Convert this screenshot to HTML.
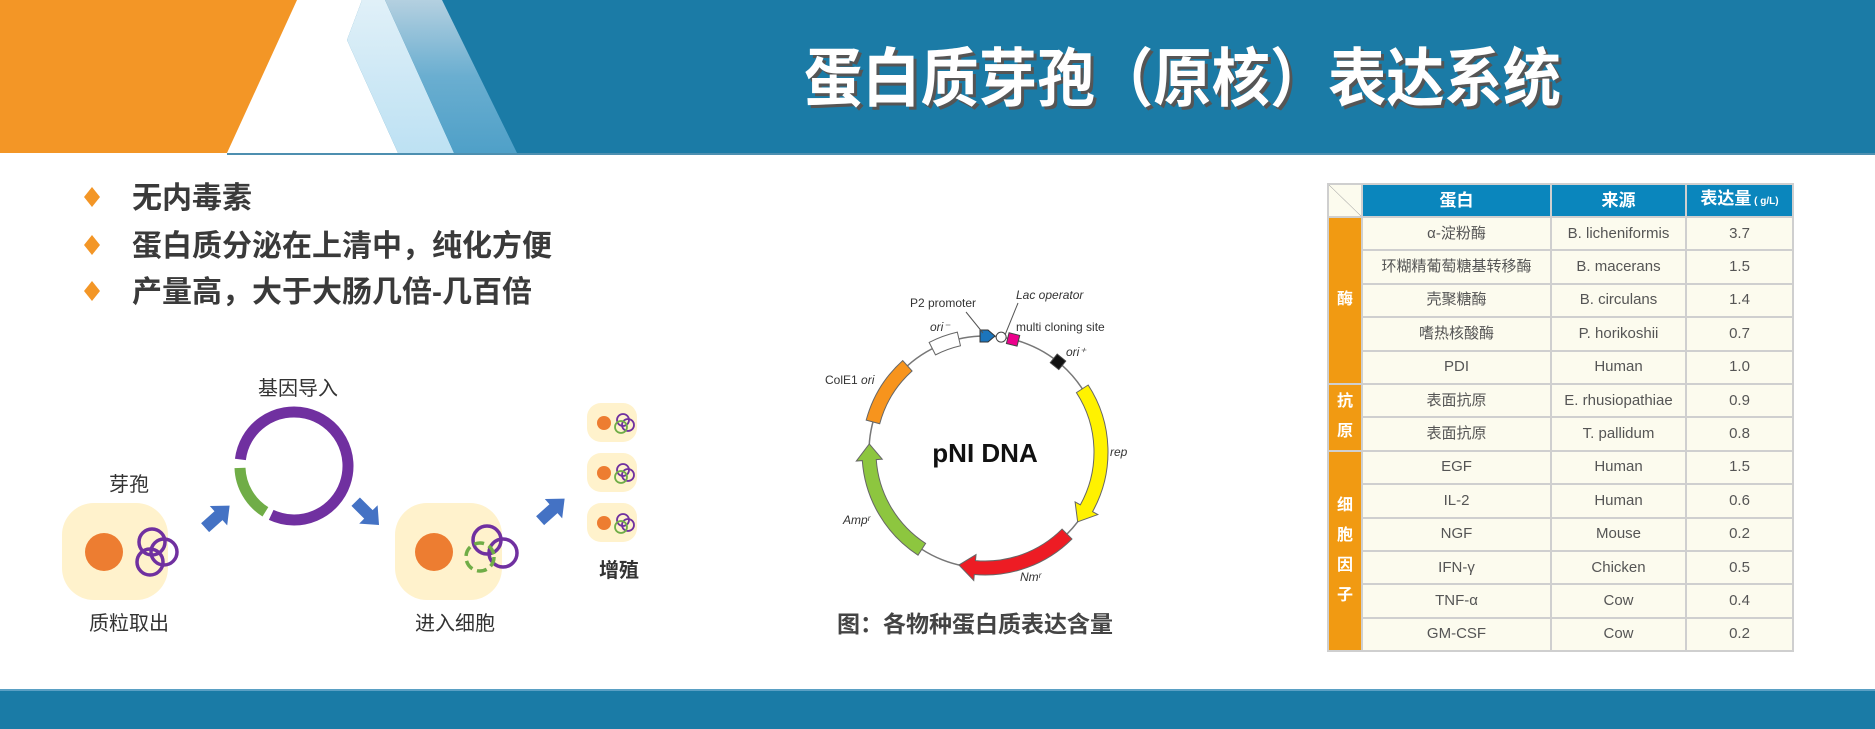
<!DOCTYPE html>
<html><head><meta charset="utf-8"><style>
html,body{margin:0;padding:0;background:#fff}
#c{position:relative;width:1875px;height:729px;overflow:hidden;font-family:"Liberation Sans","Noto Sans CJK SC",sans-serif}
svg{position:absolute;left:0;top:0}
</style></head><body><div id="c">
<svg width="1875" height="729" viewBox="0 0 1875 729" xmlns="http://www.w3.org/2000/svg" font-family="Liberation Sans, Noto Sans CJK SC, sans-serif">
<defs>
<linearGradient id="gm" x1="0" y1="0" x2="0" y2="1"><stop offset="0" stop-color="#b4d0e0"/><stop offset="0.5" stop-color="#6aaed0"/><stop offset="1" stop-color="#4fa0c8"/></linearGradient>
<linearGradient id="gl" x1="0" y1="0" x2="0" y2="1"><stop offset="0" stop-color="#e0f0f8"/><stop offset="1" stop-color="#bde1f3"/></linearGradient>
</defs>
<!-- header -->
<rect x="0" y="0" width="1875" height="153" fill="#1b7ba6"/>
<polygon points="0,0 362,0 347,40 398,153 0,153" fill="#ffffff"/>
<polygon points="362,0 385,0 454,153 398,153 347,40" fill="url(#gl)"/>
<polygon points="385,0 442,0 517,153 454,153" fill="url(#gm)"/>
<polygon points="0,0 297,0 227,153 0,153" fill="#f39626"/>
<rect x="227" y="153" width="1648" height="2" fill="#4d8fb0"/>
<text x="807" y="104" font-size="64" font-weight="bold" fill="#555" textLength="757" lengthAdjust="spacingAndGlyphs">蛋白质芽孢（原核）表达系统</text>
<text x="804" y="101" font-size="64" font-weight="bold" fill="#fff" textLength="757" lengthAdjust="spacingAndGlyphs">蛋白质芽孢（原核）表达系统</text>
<!-- footer -->
<rect x="0" y="689" width="1875" height="40" fill="#1a7ba6"/>
<rect x="0" y="689" width="1875" height="2" fill="#5aa0c4"/>
<!-- bullets -->
<g fill="#f39626">
<polygon points="92,187 100,197 92,207 84,197"/>
<polygon points="92,235 100,245 92,255 84,245"/>
<polygon points="92,281 100,291 92,301 84,291"/>
</g>
<g font-size="30" font-weight="bold" fill="#3a3a3a">
<text x="132" y="208">无内毒素</text>
<text x="132" y="256">蛋白质分泌在上清中，纯化方便</text>
<text x="132" y="302">产量高，大于大肠几倍-几百倍</text>
</g>
<!-- left diagram -->
<g font-size="20" fill="#333" text-anchor="middle">
<text x="129" y="491">芽孢</text>
<text x="298" y="395">基因导入</text>
<text x="129" y="630">质粒取出</text>
<text x="455" y="630">进入细胞</text>
<text x="619" y="577" font-weight="bold">增殖</text>
</g>
<rect x="62" y="503" width="106" height="97" rx="32" fill="#fff2cc"/>
<circle cx="104" cy="552" r="19" fill="#ed7d31"/>
<g fill="none" stroke="#7030a0" stroke-width="3.5">
<circle cx="152" cy="542" r="13"/><circle cx="164" cy="552" r="13"/><circle cx="150" cy="562" r="13"/>
</g>
<rect x="395" y="503" width="107" height="97" rx="32" fill="#fff2cc"/>
<circle cx="434" cy="552" r="19" fill="#ed7d31"/>
<g fill="none" stroke="#7030a0" stroke-width="3.5">
<circle cx="487" cy="540" r="14"/><circle cx="503" cy="553" r="14"/><circle cx="480" cy="557" r="14" stroke="#70ad47" stroke-dasharray="10 5"/>
</g>
<g id="sc">
<rect x="587" y="403" width="50" height="39" rx="14" fill="#fff2cc"/>
<circle cx="604" cy="423" r="7" fill="#ed7d31"/>
<g fill="none" stroke="#7030a0" stroke-width="1.8"><circle cx="623" cy="420" r="6"/><circle cx="628" cy="425" r="6"/><circle cx="621" cy="427" r="6" stroke="#70ad47"/></g>
</g>
<use href="#sc" y="50"/><use href="#sc" y="100"/>
<!-- big ring -->
<g fill="none" stroke-width="11">
<path id="ringP" stroke="#7030a0"/>
<path id="ringG" stroke="#70ad47"/>
</g>
<!-- blue arrows -->
<g fill="#4472c4">
<polygon points="-16,-6 2,-6 2,-13 17,0 2,13 2,6 -16,6" transform="translate(217,517) rotate(-42)"/>
<polygon points="-16,-6 2,-6 2,-13 17,0 2,13 2,6 -16,6" transform="translate(367,513) rotate(45)"/>
<polygon points="-16,-6 2,-6 2,-13 17,0 2,13 2,6 -16,6" transform="translate(552,510) rotate(-42)"/>
</g>
<!-- plasmid -->
<circle cx="985" cy="452" r="116" fill="none" stroke="#777" stroke-width="1.5"/>
<g id="pl"></g>
<text x="985" y="462" font-size="26" font-weight="bold" fill="#111" text-anchor="middle">pNI DNA</text>
<g font-size="12" fill="#333">
<text x="910" y="307">P2 promoter</text>
<text x="1016" y="299" font-style="italic">Lac operator</text>
<text x="1016" y="331">multi cloning site</text>
<text x="930" y="331" font-style="italic">ori⁻</text>
<text x="1066" y="356" font-style="italic">ori⁺</text>
<text x="825" y="384">ColE1 <tspan font-style="italic">ori</tspan></text>
<text x="1110" y="456" font-style="italic">rep</text>
<text x="843" y="524" font-style="italic">Ampʳ</text>
<text x="1020" y="581" font-style="italic">Nmʳ</text>
</g>
<g stroke="#555" stroke-width="1" fill="none">
<line x1="966" y1="312" x2="983" y2="333"/>
<line x1="1018" y1="303" x2="1005" y2="335"/>
</g>
<text x="975" y="632" font-size="23" font-weight="bold" fill="#444" text-anchor="middle">图：各物种蛋白质表达含量</text>
</svg>

<!-- table -->
<style>
#t{position:absolute;left:1327px;top:183px;border-collapse:collapse;font-family:"Liberation Sans","Noto Sans CJK SC",sans-serif;background:#fcfbee;table-layout:fixed}
#t td{border:2px solid #cfcfcf;height:33.4px;padding:0;text-align:center;font-size:15px;color:#555;box-sizing:border-box;line-height:16px}
#t .h td{background:#0a86bd;color:#fff;font-weight:bold;font-size:17px;height:33px}
#t td.o{background:#f19a12;color:#fff;font-weight:bold;font-size:16px;line-height:30px}
#t td.d{background:#fcfbee;background-image:linear-gradient(to top right,transparent 49%,#999 50%,transparent 51%)}
</style>
<table id="t">
<tr class="h"><td class="d" style="width:34px"></td><td style="width:189px">蛋白</td><td style="width:135px">来源</td><td style="width:107px">表达量<span style="font-size:10px"> ( g/L)</span></td></tr>
<tr><td class="o" rowspan="5">酶</td><td>α-淀粉酶</td><td>B. licheniformis</td><td>3.7</td></tr>
<tr><td>环糊精葡萄糖基转移酶</td><td>B. macerans</td><td>1.5</td></tr>
<tr><td>壳聚糖酶</td><td>B. circulans</td><td>1.4</td></tr>
<tr><td>嗜热核酸酶</td><td>P. horikoshii</td><td>0.7</td></tr>
<tr><td>PDI</td><td>Human</td><td>1.0</td></tr>
<tr><td class="o" rowspan="2">抗<br>原</td><td>表面抗原</td><td>E. rhusiopathiae</td><td>0.9</td></tr>
<tr><td>表面抗原</td><td>T. pallidum</td><td>0.8</td></tr>
<tr><td class="o" rowspan="6">细<br>胞<br>因<br>子</td><td>EGF</td><td>Human</td><td>1.5</td></tr>
<tr><td>IL-2</td><td>Human</td><td>0.6</td></tr>
<tr><td>NGF</td><td>Mouse</td><td>0.2</td></tr>
<tr><td>IFN-γ</td><td>Chicken</td><td>0.5</td></tr>
<tr><td>TNF-α</td><td>Cow</td><td>0.4</td></tr>
<tr><td>GM-CSF</td><td>Cow</td><td>0.2</td></tr>
</table>
</div>
<script>
function P(cx,cy,r,a){a=a*Math.PI/180;return [cx+r*Math.sin(a),cy-r*Math.cos(a)];}
function arc(cx,cy,r,a1,a2){var p=P(cx,cy,r,a1),q=P(cx,cy,r,a2);var l=(a2-a1)>180?1:0;return "M"+p[0].toFixed(1)+","+p[1].toFixed(1)+" A"+r+","+r+" 0 "+l+" 1 "+q[0].toFixed(1)+","+q[1].toFixed(1);}
document.getElementById("ringP").setAttribute("d",arc(294,466,54,277,565));
document.getElementById("ringG").setAttribute("d",arc(294,466,54,212,268));
var cx=985,cy=452,ri=109,ro=123;
function band(a1,a2,col,arrowEnd){
 var s="";var i1=P(cx,cy,ri,a1),o1=P(cx,cy,ro,a1);
 var ae=arrowEnd?a2-6:a2;
 var o2=P(cx,cy,ro,ae),i2=P(cx,cy,ri,ae);
 var l=(ae-a1)>180?1:0;
 s+="M"+i1+" L"+o1+" A"+ro+","+ro+" 0 "+l+" 1 "+o2;
 if(arrowEnd){var oo=P(cx,cy,ro+6,ae),tip=P(cx,cy,116,a2+2),ii=P(cx,cy,ri-6,ae);s+=" L"+oo+" L"+tip+" L"+ii;}
 s+=" L"+i2+" A"+ri+","+ri+" 0 "+l+" 0 "+i1+" Z";
 return '<path d="'+s+'" fill="'+col+'" stroke="#666" stroke-width="1"/>';
}
var h="";
h+=band(57,125,"#fff200",true);
h+=band(135,191,"#ed1c24",true);
h+=band(213,272,"#8dc63f",true);
h+=band(285,318,"#f7941d",false);
h+=band(333,347,"#ffffff",false);
function sq(a,s,col){var p=P(cx,cy,116,a);return '<rect x="'+(p[0]-s/2)+'" y="'+(p[1]-s/2)+'" width="'+s+'" height="'+s+'" fill="'+col+'" stroke="#444" stroke-width="1" transform="rotate('+a+' '+p[0]+' '+p[1]+')"/>';}
h+=sq(14,11,"#ec008c");h+=sq(39,11,"#111");
var b=P(cx,cy,116,1);
h+='<polygon points="'+(b[0]-7)+','+(b[1]-6)+' '+(b[0]+1)+','+(b[1]-6)+' '+(b[0]+8)+','+b[1]+' '+(b[0]+1)+','+(b[1]+6)+' '+(b[0]-7)+','+(b[1]+6)+'" fill="#1c75bc" stroke="#333" stroke-width="1"/>';
var c=P(cx,cy,116,8);h+='<circle cx="'+c[0]+'" cy="'+c[1]+'" r="5" fill="#fff" stroke="#444"/>';
document.getElementById("pl").innerHTML=h;
</script>
</body></html>
